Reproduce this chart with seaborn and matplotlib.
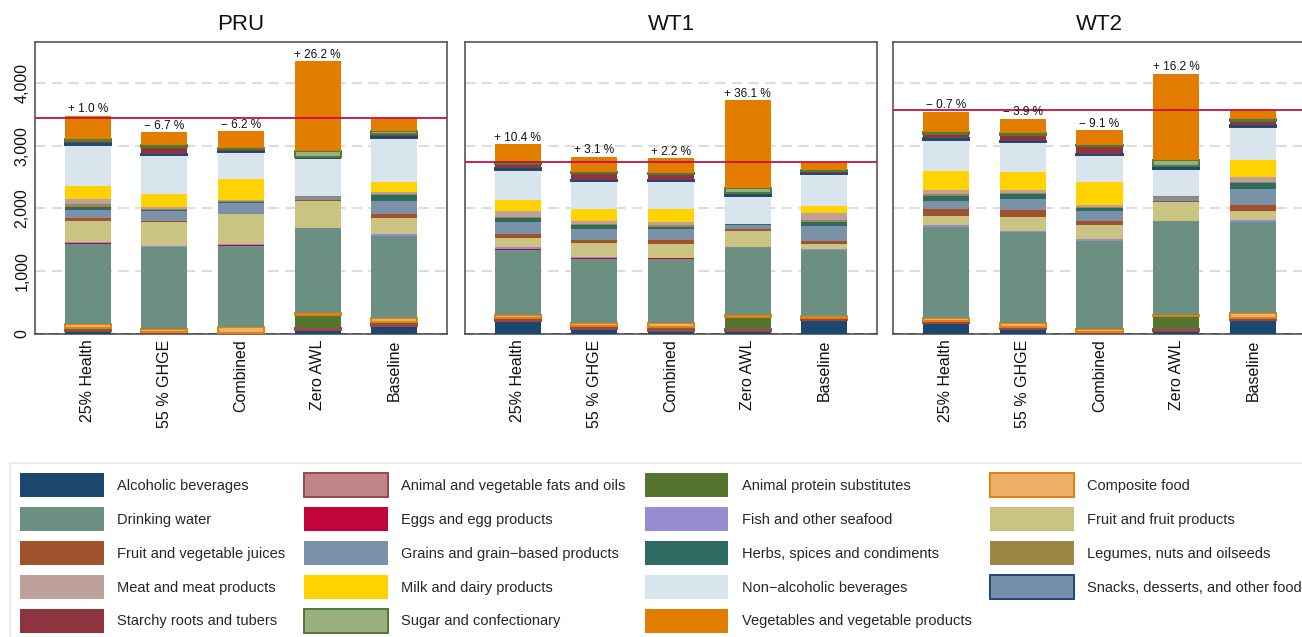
import matplotlib
matplotlib.use("Agg")
import matplotlib.pyplot as plt
from matplotlib.patches import Patch
import numpy as np
import pandas as pd
import seaborn as sns

# ---------------------------------------------------------------------------
# Data: water footprint by food group (stacked bottom-to-top in this order)
# ---------------------------------------------------------------------------
scenarios = ["25% Health", "55 % GHGE", "Combined", "Zero AWL", "Baseline"]
panels = ["PRU", "WT1", "WT2"]

food_groups = [
    "Alcoholic beverages",
    "Animal and vegetable fats and oils",
    "Animal protein substitutes",
    "Composite food",
    "Drinking water",
    "Eggs and egg products",
    "Fish and other seafood",
    "Fruit and fruit products",
    "Fruit and vegetable juices",
    "Grains and grain\u2212based products",
    "Herbs, spices and condiments",
    "Legumes, nuts and oilseeds",
    "Meat and meat products",
    "Milk and dairy products",
    "Non\u2212alcoholic beverages",
    "Snacks, desserts, and other foods",
    "Starchy roots and tubers",
    "Sugar and confectionary",
    "Vegetables and vegetable products",
]

# one list per scenario, values follow the food_groups order
pru_health = [53, 15, 20, 64, 1285, 5, 21, 330, 48, 128, 48, 59, 69, 208, 661, 35, 27, 35, 363]
pru_ghge = [10, 5, 20, 43, 1301, 5, 16, 384, 11, 165, 21, 10, 32, 208, 624, 16, 101, 32, 206]
pru_combined = [15, 3, 3, 96, 1290, 5, 21, 480, 5, 165, 21, 10, 16, 336, 432, 16, 32, 11, 270]
pru_zero_awl = [69, 21, 219, 27, 1349, 0, 0, 432, 21, 37, 8, 16, 0, 0, 597, 10, 16, 91, 1428]
pru_baseline = [123, 32, 32, 75, 1301, 5, 21, 261, 64, 208, 96, 10, 37, 160, 695, 27, 43, 37, 213]

wt1_health = [213, 20, 23, 48, 1039, 5, 32, 149, 64, 192, 59, 16, 91, 187, 480, 32, 59, 27, 284]
wt1_ghge = [80, 24, 24, 43, 1029, 5, 27, 219, 53, 176, 48, 16, 48, 203, 448, 16, 101, 27, 234]
wt1_combined = [53, 26, 27, 64, 1018, 16, 10, 213, 64, 176, 32, 32, 53, 203, 442, 16, 101, 21, 229]
wt1_zero_awl = [53, 21, 203, 32, 1071, 0, 0, 267, 21, 75, 8, 8, 0, 0, 442, 21, 21, 80, 1401]
wt1_baseline = [224, 16, 16, 32, 1046, 5, 22, 75, 48, 240, 64, 21, 112, 123, 496, 21, 37, 21, 117]

wt2_health = [171, 18, 19, 48, 1450, 5, 22, 144, 112, 128, 85, 32, 59, 304, 485, 43, 64, 32, 322]
wt2_ghge = [75, 16, 16, 64, 1450, 5, 11, 224, 112, 176, 75, 16, 53, 293, 469, 16, 101, 27, 230]
wt2_combined = [15, 6, 6, 48, 1407, 5, 22, 219, 69, 165, 37, 21, 32, 368, 437, 16, 117, 21, 232]
wt2_zero_awl = [53, 21, 208, 21, 1498, 0, 0, 299, 16, 59, 11, 10, 0, 0, 432, 32, 16, 96, 1374]
wt2_baseline = [219, 18, 19, 85, 1445, 5, 32, 128, 101, 251, 96, 16, 85, 272, 518, 43, 64, 27, 144]

y_ticks = [0, 1000, 2000, 3000, 4000]
y_tick_labels = ["0", "1,000", "2,000", "3,000", "4,000"]

# ---------------------------------------------------------------------------
# Styling
# ---------------------------------------------------------------------------
fill_colors = [
    "#1c4870", "#bd8585", "#55752f", "#edb068", "#6b8f80", "#c20538",
    "#958dd0", "#cbc382", "#a0522d", "#7b91a8", "#2e6b62", "#9c8846",
    "#bfa19b", "#ffd200", "#d9e5ec", "#7690aa", "#8d343f", "#9bb07f",
    "#e37d00",
]
edge_colors = {
    "Animal and vegetable fats and oils": "#a0444c",
    "Composite food": "#e57f07",
    "Snacks, desserts, and other foods": "#1c4870",
    "Sugar and confectionary": "#507a35",
}

sns.set_theme(style="white")
plt.rcParams["font.family"] = ["Liberation Sans", "DejaVu Sans"]
plt.rcParams["axes.unicode_minus"] = True

panel_data = {
    "PRU": [pru_health, pru_ghge, pru_combined, pru_zero_awl, pru_baseline],
    "WT1": [wt1_health, wt1_ghge, wt1_combined, wt1_zero_awl, wt1_baseline],
    "WT2": [wt2_health, wt2_ghge, wt2_combined, wt2_zero_awl, wt2_baseline],
}

records = []
for panel in panels:
    for scen, values in zip(scenarios, panel_data[panel]):
        for group, v in zip(food_groups, values):
            records.append({"panel": panel, "scenario": scen, "group": group, "value": v})
df = pd.DataFrame(records)

W, H = 1302, 637
fig = plt.figure(figsize=(W / 100, H / 100), dpi=100)

# axes boxes in pixels: (left, right)
boxes = [(35, 447), (465, 877), (893, 1306)]
ax_top, ax_bottom = 42, 334

for i, (panel, (x0, x1)) in enumerate(zip(panels, boxes)):
    ax = fig.add_axes([x0 / W, (H - ax_bottom) / H, (x1 - x0) / W,
                       (ax_bottom - ax_top) / H])
    ax.set_axisbelow(True)
    sub_panel = df[df["panel"] == panel]

    bottoms = np.zeros(len(scenarios))
    for k, group in enumerate(food_groups):
        sub = sub_panel[sub_panel["group"] == group].set_index("scenario").loc[scenarios].reset_index()
        edge = edge_colors.get(group)
        sns.barplot(
            data=sub, x="scenario", y="value", order=scenarios,
            bottom=bottoms.copy(), color=fill_colors[k], saturation=1,
            width=0.6, errorbar=None,
            edgecolor=edge if edge else "none",
            linewidth=1.4 if edge else 0,
            ax=ax, zorder=3,
        )
        bottoms = bottoms + sub["value"].to_numpy()

    totals = bottoms
    base_total = totals[scenarios.index("Baseline")]

    # reference line at the baseline total
    ax.axhline(base_total, color="#c8103f", lw=1.3, zorder=4)

    # percentage change labels above each scenario bar
    for j, scen in enumerate(scenarios):
        if scen == "Baseline":
            continue
        pct = (totals[j] / base_total - 1) * 100
        sign = "+" if pct >= 0 else "\u2212"
        ax.text(j, totals[j] + 8, f"{sign} {abs(pct):.1f} %", ha="center",
                va="bottom", fontsize=8.5, color="#111111", zorder=5)

    ax.set_xlim(-0.69, 4.69)
    ax.set_ylim(0, 4650)
    ax.set_yticks(y_ticks)
    ax.yaxis.grid(True, color="#dcdcdc", lw=1.5, ls=(0, (5, 3)))
    ax.xaxis.grid(False)
    ax.axhline(0, color="#222222", lw=1.3, ls=(0, (5, 3)), zorder=2)

    if i == 0:
        ax.set_yticklabels(y_tick_labels, rotation=90, va="center", fontsize=11.5)
    else:
        ax.set_yticklabels([])
    ax.set_xticks(range(len(scenarios)))
    ax.set_xticklabels(scenarios, rotation=90, fontsize=11.5, va="top", ha="center")
    ax.tick_params(axis="x", length=0, pad=4, colors="#111111")
    ax.tick_params(axis="y", length=0, pad=4, colors="#111111")
    ax.set_xlabel("")
    ax.set_ylabel("")
    ax.set_title(panel, fontsize=16, pad=9, color="#111111")

    for side in ["left", "right", "top", "bottom"]:
        ax.spines[side].set_visible(True)
        ax.spines[side].set_color("#555555")
        ax.spines[side].set_linewidth(1.2)

# legend, filled row by row in alphabetical order across four columns
handles = []
for k, group in enumerate(food_groups):
    edge = edge_colors.get(group)
    handles.append(Patch(facecolor=fill_colors[k],
                         edgecolor=edge if edge else fill_colors[k],
                         linewidth=1.4 if edge else 0, label=group))
ncol = 4
nrow = int(np.ceil(len(handles) / ncol))
ordered = []
for c in range(ncol):
    for r in range(nrow):
        idx = r * ncol + c
        if idx < len(handles):
            ordered.append(handles[idx])

leg = fig.legend(
    handles=ordered, labels=[h.get_label() for h in ordered],
    loc="upper left", bbox_to_anchor=(10 / W, 1 - 463 / H),
    ncol=ncol, fontsize=10.5, frameon=True, fancybox=False,
    handlelength=5.75, handleheight=2.155, handletextpad=0.9,
    labelspacing=0.68, columnspacing=1.3, borderpad=0.7,
    borderaxespad=0,
)
leg.get_frame().set_edgecolor("#dbe3e8")
leg.get_frame().set_linewidth(1.2)

fig.savefig("out.png", dpi=100)
